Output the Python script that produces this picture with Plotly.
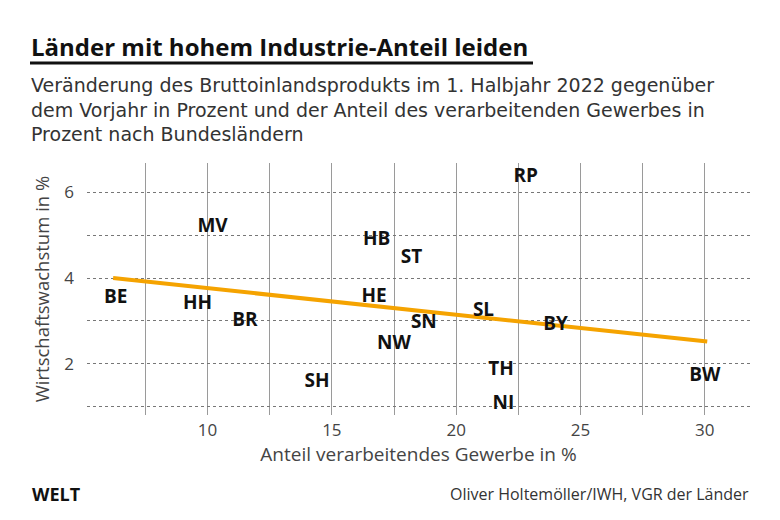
import plotly.graph_objects as go

# Data
laender = ["RP", "MV", "HB", "ST", "BE", "HH", "BR", "HE", "SL", "SN", "NW", "BY", "TH", "NI", "BW", "SH"]
anteil_gewerbe = [22.8, 10.2, 16.8, 18.2, 6.3, 9.6, 11.5, 16.7, 21.1, 18.7, 17.5, 24.0, 21.8, 21.9, 30.0, 14.4]
wachstum = [6.35, 5.19, 4.88, 4.47, 3.53, 3.38, 3.00, 3.56, 3.23, 2.94, 2.45, 2.90, 1.85, 1.05, 1.71, 1.58]

trend_x = [6.2, 30.1]
trend_y = [4.0, 2.52]

x_tickvals = [7.5, 10, 12.5, 15, 17.5, 20, 22.5, 25, 27.5, 30]
x_ticktext = ["", "10", "", "15", "", "20", "", "25", "", "30"]
y_tickvals = [1, 2, 3, 4, 5, 6]
y_ticktext = ["", "2", "", "4", "", "6"]

subtitle_lines = [
    "Veränderung des Bruttoinlandsprodukts im 1. Halbjahr 2022 gegenüber",
    "dem Vorjahr in Prozent und der Anteil des verarbeitenden Gewerbes in",
    "Prozent nach Bundesländern",
]

FONT = "Open Sans"

# The page body has an 8px margin, so the figure is sized to fit the window.
W, H = 764, 504
OFF = 8
PL, PR, PT, PB = 87 - OFF, 750 - OFF, 163 - OFF, 415 - OFF  # plot area in figure pixels

fig = go.Figure()
fig.add_trace(go.Scatter(
    x=trend_x, y=trend_y, mode="lines",
    line=dict(color="#F5A300", width=4),
    hoverinfo="skip", showlegend=False,
))
fig.add_trace(go.Scatter(
    x=anteil_gewerbe, y=wachstum, mode="text", text=laender,
    textposition="middle center",
    textfont=dict(family=FONT, size=19, color="#111111", weight="bold"),
    showlegend=False,
))

fig.update_layout(
    width=W, height=H,
    margin=dict(l=PL, r=W - PR, t=PT, b=H - PB, autoexpand=False),
    paper_bgcolor="white", plot_bgcolor="white",
    font=dict(family=FONT, color="#333333"),
    xaxis=dict(
        range=[5.15, 31.82], tickvals=x_tickvals, ticktext=x_ticktext,
        showgrid=True, gridcolor="#9a9a9a", gridwidth=1,
        zeroline=False, showline=False, ticks="", automargin=False,
        ticklabelstandoff=3,
        tickfont=dict(size=17, color="#444444"),
        title=dict(text="Anteil verarbeitendes Gewerbe in %", font=dict(size=19, color="#444444"), standoff=7),
    ),
    yaxis=dict(
        range=[0.81, 6.68], tickvals=y_tickvals, ticktext=y_ticktext,
        showgrid=True, gridcolor="#777777", gridwidth=1, griddash="dot",
        zeroline=False, showline=False, ticks="", automargin=False,
        ticklabelstandoff=12,
        tickfont=dict(size=17, color="#444444"),
        title=dict(text="Wirtschaftswachstum in %", font=dict(size=18.5, color="#444444"), standoff=9),
    ),
)

plot_w = PR - PL
plot_h = PB - PT
def px(xs):  # reference screen x -> paper
    return (xs - OFF - PL) / plot_w
def py(ys):  # reference screen y -> paper
    return (PB - (ys - OFF)) / plot_h

anns = [
    dict(text="<b>Länder mit hohem Industrie-Anteil leiden</b>", x=px(29), y=py(46), xanchor="left", yanchor="middle",
         font=dict(family=FONT, size=24, color="#111111")),
    dict(text="<b>WELT</b>", x=px(30), y=py(494), xanchor="left", yanchor="middle",
         font=dict(family=FONT, size=18, color="#111111")),
    dict(text="Oliver Holtemöller/IWH, VGR der Länder", x=px(751), y=py(494), xanchor="right", yanchor="middle",
         font=dict(family=FONT, size=16, color="#333333")),
    dict(text="<br>".join(subtitle_lines), x=px(29), y=py(72), xanchor="left", yanchor="top", align="left",
         font=dict(family="DejaVu Sans", size=19, color="#333333")),
]
for a in anns:
    a.update(xref="paper", yref="paper", showarrow=False)
    fig.add_annotation(**a)

fig.add_shape(type="line", xref="paper", yref="paper", x0=px(30), x1=px(533), y0=py(63), y1=py(63),
              line=dict(color="#111111", width=3))

fig.write_html("out.html")
